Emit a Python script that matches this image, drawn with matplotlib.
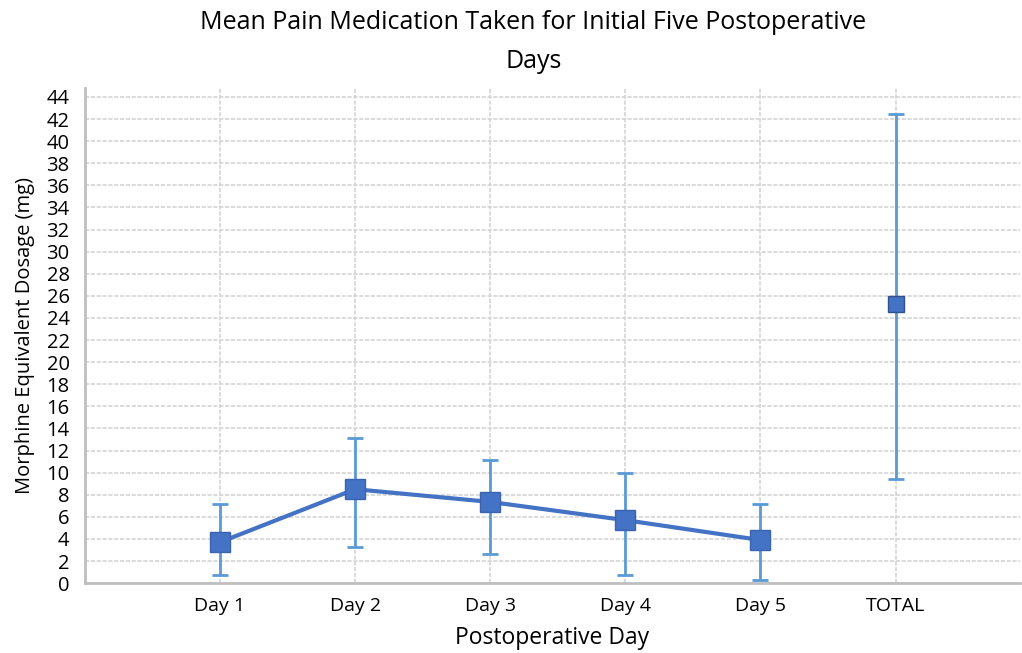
import numpy as np
import matplotlib.pyplot as plt

plt.rcParams['font.family'] = ['Open Sans', 'DejaVu Sans']

days = ['Day 1', 'Day 2', 'Day 3', 'Day 4', 'Day 5']
day_means = [3.7, 8.5, 7.35, 5.7, 3.9]
day_upper = [7.2, 13.1, 11.1, 10.0, 7.15]
day_lower = [0.7, 3.25, 2.6, 0.7, 0.3]

total_label = 'TOTAL'
total_mean = 25.3
total_upper = 42.5
total_lower = 9.4

labels = days + [total_label]

fig = plt.figure(figsize=(10.22, 6.53), dpi=100)
ax = fig.add_axes([0.083, 0.107, 0.915, 0.758])

x_days = np.arange(len(days))
means = np.array(day_means)
yerr = [means - np.array(day_lower), np.array(day_upper) - means]

err_color = '#5B9BD5'
line_color = '#4472C4'

ax.errorbar(x_days, means, yerr=yerr, fmt='none', ecolor=err_color,
            elinewidth=2, capsize=6, capthick=2, zorder=3)
ax.plot(x_days, means, color=line_color, lw=3, marker='s', ms=14,
        mec='#3A64B0', mfc=line_color, zorder=4)

xt = len(days)
ax.errorbar([xt], [total_mean], yerr=[[total_mean - total_lower], [total_upper - total_mean]],
            fmt='none', ecolor=err_color, elinewidth=2, capsize=6, capthick=2, zorder=3)
ax.plot([xt], [total_mean], linestyle='none', marker='s', ms=11,
        mfc=line_color, mec='#2F528F', zorder=4)

ax.set_xlim(-1, 5.92)
ax.set_ylim(0, 44.8)
ax.set_yticks(np.arange(0, 45, 2))
ax.set_xticks(np.arange(len(labels)))
ax.set_xticklabels(labels)

ax.grid(True, color='#d4d4d4', linestyle=(0, (2.5, 1)), linewidth=1.2)
ax.set_axisbelow(True)
for s in ['top', 'right']:
    ax.spines[s].set_visible(False)
for s in ['left', 'bottom']:
    ax.spines[s].set_color('#bfbfbf')
    ax.spines[s].set_linewidth(2)
ax.tick_params(length=0, labelsize=14, pad=10)
ax.tick_params(axis='y', pad=11)
for t in ax.get_yticklabels():
    t.set_fontsize(14.5)

ax.set_xlabel('Postoperative Day', fontsize=16.5, labelpad=8)
ax.set_ylabel('Morphine Equivalent Dosage (mg)', fontsize=14.5, labelpad=8)
fig.suptitle('Mean Pain Medication Taken for Initial Five Postoperative\nDays',
             fontsize=18, x=0.522, y=0.985, linespacing=1.75)

fig.savefig('out.png', dpi=100)
